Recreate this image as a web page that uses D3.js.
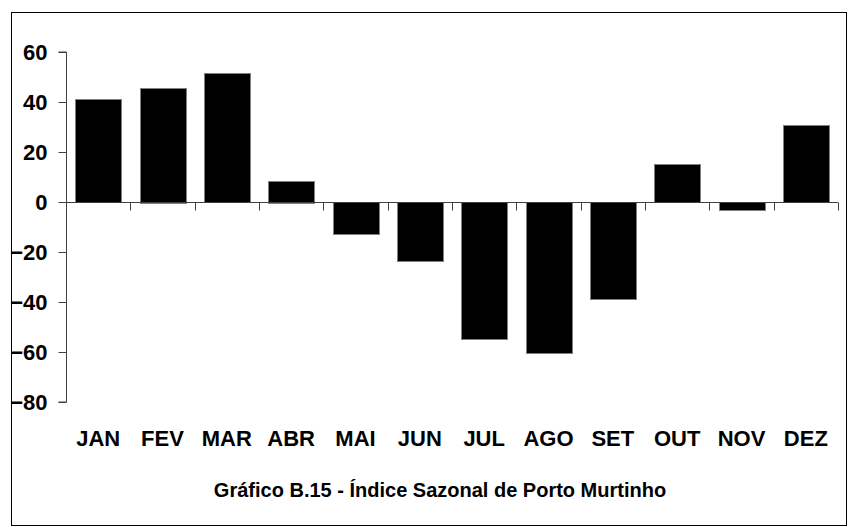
<!DOCTYPE html>
<html>
<head>
<meta charset="utf-8">
<script src="https://cdn.jsdelivr.net/npm/d3@7"></script>
<style>
  html, body { margin: 0; padding: 0; background: #fff; }
  svg { display: block; }
  text { font-family: "Liberation Sans", Arial, sans-serif; font-weight: bold; fill: #000; }
</style>
</head>
<body>
<svg id="chart" width="848" height="527"></svg>
<script>
const months = ["JAN","FEV","MAR","ABR","MAI","JUN","JUL","AGO","SET","OUT","NOV","DEZ"];
const values = [41.3, 45.8, 51.4, 8.6, -12.7, -23.6, -54.9, -60.3, -38.7, 15.2, -3.3, 30.8];
const yTicks = [60, 40, 20, 0, -20, -40, -60, -80];
const title = "Gráfico B.15 - Índice Sazonal de Porto Murtinho";

const svg = d3.select("#chart");

// outer frame
svg.append("rect")
  .attr("x", 11.5).attr("y", 12.5)
  .attr("width", 835).attr("height", 513)
  .attr("fill", "none").attr("stroke", "#000").attr("stroke-width", 1);

const x = d3.scaleBand().domain(months).range([66, 838]).paddingInner(0.285).paddingOuter(0.1425);
const y = d3.scaleLinear().domain([-80, 60]).range([402, 52]);

// bars
svg.append("g").selectAll("rect").data(values).join("rect")
  .attr("x", (d, i) => Math.round(x(months[i])) + 0.5)
  .attr("y", d => Math.round(y(Math.max(0, d))) + 0.5)
  .attr("width", Math.round(x.bandwidth()))
  .attr("height", d => Math.round(Math.abs(y(d) - y(0))))
  .attr("fill", "#000")
  .attr("stroke", "#808080")
  .attr("stroke-width", 1);

// y axis
const yAxis = d3.axisLeft(y).tickValues(yTicks).tickSize(8).tickPadding(11).tickFormat(d3.format("d"));
const gy = svg.append("g").attr("transform", "translate(66.5,0)").call(yAxis);
gy.select(".domain").attr("stroke", "#404040").attr("d", `M-8,${y(60)}H0V${y(-80)}H-8`);
gy.selectAll(".tick line").attr("stroke", "#404040");
gy.selectAll(".tick text").attr("font-size", 22).attr("font-family", "Liberation Sans, Arial, sans-serif").attr("font-weight", "bold").attr("fill", "#000");

// x axis at zero with ticks at band boundaries
const gx = svg.append("g").attr("transform", `translate(0,${Math.round(y(0)) + 0.5})`);
gx.append("line").attr("x1", 66).attr("x2", 838).attr("stroke", "#404040");
const bounds = months.map(m => x(m) - x.step() * x.paddingInner() / 2).concat([838]);
gx.selectAll("line.tk").data(bounds).join("line").attr("class", "tk")
  .attr("x1", d => Math.round(d) + 0.5).attr("x2", d => Math.round(d) + 0.5)
  .attr("y1", 0).attr("y2", 8).attr("stroke", "#404040");

// month labels
svg.append("g").selectAll("text").data(months).join("text")
  .attr("x", d => x(d) + x.bandwidth() / 2)
  .attr("y", 446)
  .attr("text-anchor", "middle")
  .attr("font-size", 22)
  .text(d => d);

// title
svg.append("text")
  .attr("x", 440).attr("y", 497)
  .attr("text-anchor", "middle")
  .attr("font-size", 20)
  .text(title);
</script>
</body>
</html>
